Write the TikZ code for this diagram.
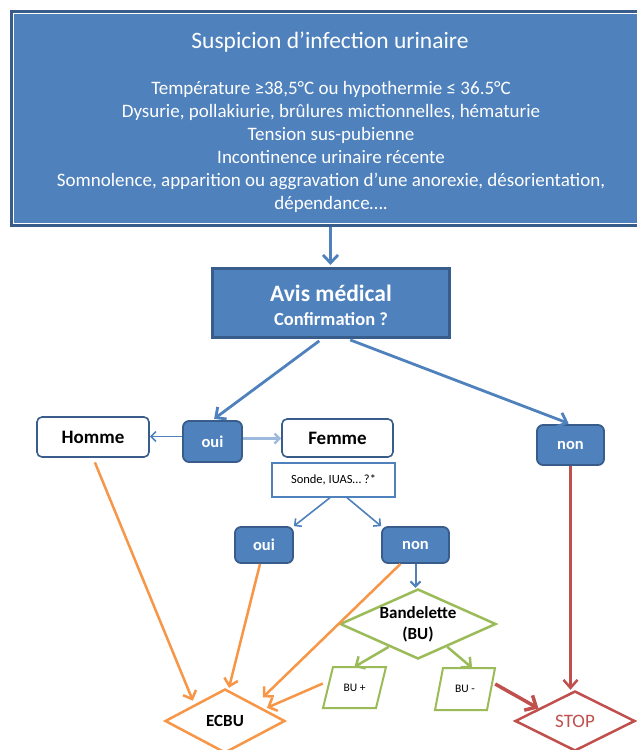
\documentclass[tikz,border=0pt]{standalone}
\usepackage{fontspec}
\setmainfont{Carlito}
\usetikzlibrary{arrows.meta,shapes.geometric}
\definecolor{bfill}{HTML}{4F81BD}
\definecolor{bdark}{HTML}{385D8A}
\definecolor{blight}{HTML}{9DB9DD}
\definecolor{ora}{HTML}{F79646}
\definecolor{gre}{HTML}{9BBB59}
\definecolor{rd}{HTML}{C0504D}
\begin{document}
\begin{tikzpicture}[x=1pt,y=-1pt,
  bluebox/.style={draw=bdark, fill=bfill, line width=3pt, text=white, inner sep=0pt},
  pill/.style={bluebox, rounded corners=6pt, line width=1.8pt, font=\fontsize{16.5}{20}\selectfont\bfseries},
  whitebox/.style={draw=bdark, fill=white, rounded corners=5pt, line width=1.6pt, inner sep=0pt, font=\fontsize{19}{23}\selectfont\bfseries},
  dia/.style={diamond, inner sep=0pt, fill=white, line width=2.5pt},
  barrow/.style={draw=bfill, line width=2.8pt, -{Straight Barb[length=8pt,width=15pt]}},
  tarrow/.style={draw=bfill, line width=1.6pt, -{Straight Barb[length=5pt,width=10pt]}},
  oarrow/.style={draw=ora, line width=2.5pt, -{Straight Barb[length=7pt,width=14pt]}},
  garrow/.style={draw=gre, line width=2.5pt, -{Straight Barb[length=7pt,width=14pt]}},
  rarrow/.style={draw=rd, line width=2.5pt, -{Straight Barb[length=8pt,width=14pt]}},
  gpar/.style={draw=gre, line width=2pt, line join=miter}
]
\fill[white] (0,0) rectangle (637,750);
\useasboundingbox (0,0) rectangle (637,750);

% top box
\node[bluebox, minimum width=637pt, minimum height=214pt] (sus) at (330,118.5) {};
\draw[white, line width=0.9pt] ([shift={(3.5,3.5)}]sus.north west) rectangle ([shift={(-3.5,-3.5)}]sus.south east);
\node[text=white, font=\fontsize{23.5}{28}\selectfont] (title) at (330,42) {Suspicion d’infection urinaire};
\node[text=white, font=\fontsize{19}{23}\selectfont, align=center] (body) at (331,147) {Température ≥38,5°C ou hypothermie ≤ 36.5°C\\
Dysurie, pollakiurie, brûlures mictionnelles, hématurie\\
Tension sus-pubienne\\
Incontinence urinaire récente\\
Somnolence, apparition ou aggravation d’une anorexie, désorientation,\\
dépendance….};

% avis
\node[bluebox, minimum width=237pt, minimum height=69pt] (avis) at (330.5,302.5) {};
\node[text=white, font=\fontsize{23.5}{28}\selectfont\bfseries] (avisA) at (331,293) {Avis médical};
\node[text=white, font=\fontsize{18.5}{22}\selectfont\bfseries] (avisB) at (331,319) {Confirmation ?};

% second row
\node[pill, minimum width=59pt, minimum height=41pt] (oui1) at (212.5,441.5) {oui};
\node[whitebox, minimum width=112pt, minimum height=40pt] (homme) at (93,437) {Homme};
\node[whitebox, minimum width=111pt, minimum height=38pt] (femme) at (337.5,438) {Femme};
\node[pill, minimum width=67pt, minimum height=40pt] (non1) at (570.5,445) {non};
\node[draw=bfill, fill=white, line width=1.4pt, minimum width=123pt, minimum height=34pt, inner sep=0pt, font=\fontsize{12.5}{15}\selectfont] (sonde) at (333.5,480) {Sonde, IUAS… ?*};
\node[pill, minimum width=58pt, minimum height=36pt] (oui2) at (264,545) {oui};
\node[pill, minimum width=67pt, minimum height=36pt] (non2) at (415.5,545) {non};

% diamonds
\node[dia, draw=gre, minimum width=156pt, minimum height=70pt, aspect=2.23, align=center, font=\fontsize{17}{21}\selectfont\bfseries] (band) at (418,624) {Bandelette\\(BU)};
\node[dia, draw=ora, minimum width=120pt, minimum height=64pt, aspect=1.9, font=\fontsize{17}{20}\selectfont\bfseries] (ecbu) at (225,721) {ECBU};
\node[dia, draw=rd, text=rd, minimum width=120pt, minimum height=60pt, aspect=2, font=\fontsize{19}{22}\selectfont] (stop) at (575,721) {STOP};

% parallelograms
\node[inner sep=0pt, minimum width=63pt, minimum height=41pt, font=\fontsize{11.5}{14}\selectfont] (bup) at (354.5,687.5) {BU +};
\draw[gpar] ([shift={(-31.5,20.5)}]bup.center) -- ([shift={(-21.5,-20.5)}]bup.center) -- ([shift={(31.5,-20.5)}]bup.center) -- ([shift={(21.5,20.5)}]bup.center) -- cycle;
\node[inner sep=0pt, minimum width=60pt, minimum height=42pt, font=\fontsize{11.5}{14}\selectfont] (bum) at (465,689) {BU -};
\draw[gpar] ([shift={(-30,21)}]bum.center) -- ([shift={(-22,-21)}]bum.center) -- ([shift={(30,-21)}]bum.center) -- ([shift={(22,21)}]bum.center) -- cycle;

% connectors
\draw[barrow, shorten >=1.5pt] (avis.north |- sus.south) -- (avis.north);
\draw[barrow, shorten <=4pt, shorten >=2pt] ([xshift=-8pt]avis.south) -- (oui1.north);
\draw[barrow, shorten <=4pt, shorten >=2pt] ([xshift=16pt]avis.south) -- (non1.north);
\draw[tarrow] ([yshift=5pt]oui1.west) -- ([yshift=5pt]oui1.west -| homme.east);
\draw[tarrow, draw=blight, line width=2.4pt] ([yshift=3pt]oui1.east) -- ([yshift=3pt]oui1.east -| femme.west);
\draw[tarrow] ([xshift=-3.5pt]sonde.south) -- (oui2.north east);
\draw[tarrow] ([xshift=13.5pt]sonde.south) -- (non2.north west);
\draw[tarrow, line width=2pt] (non2.south) -- (non2.south |- band.north);

\draw[oarrow, shorten <=5pt, shorten >=4pt] (homme.south) -- (ecbu.north west);
\draw[oarrow] ([xshift=-4pt]oui2.south) -- ([xshift=4pt]ecbu.north);
\draw[oarrow, shorten >=10pt] ([xshift=-15pt]non2.south) -- (ecbu.north east);
\draw[oarrow, shorten >=3pt] ([yshift=4pt]bup.west) -- (ecbu.17);

\draw[garrow] (band.-142) -- (bup.north);
\draw[garrow] (band.-38) -- ([xshift=7pt]bum.north);

\draw[rarrow] (non1.south) -- (non1.south |- stop.north);
\draw[rarrow, line width=3.5pt, -{Straight Barb[length=9pt,width=17pt]}] ([yshift=5pt]bum.east) -- (stop.161);
\end{tikzpicture}
\end{document}
